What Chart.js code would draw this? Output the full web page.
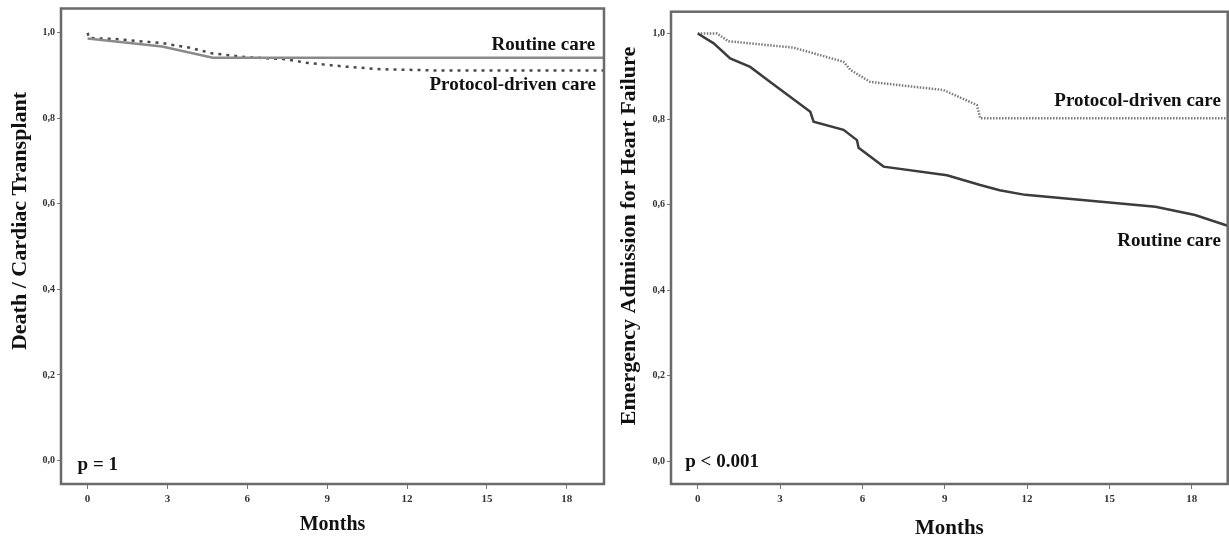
<!DOCTYPE html>
<html>
<head>
<meta charset="utf-8">
<title>Kaplan-Meier curves</title>
<script src="https://cdn.jsdelivr.net/npm/chart.js@4.4.1/dist/chart.umd.min.js"></script>
<style>
  html, body { margin: 0; padding: 0; background: #fff; }
  .panel { position: absolute; top: 0; height: 539px; }
  #leftPanel { left: 0; width: 610px; }
  #rightPanel { left: 610px; width: 619px; }
</style>
</head>
<body>
<div class="panel" id="leftPanel"><canvas id="deathChart"></canvas></div>
<div class="panel" id="rightPanel"><canvas id="admissionChart"></canvas></div>
<script>
// axis ticks
const monthTicks = [0, 3, 6, 9, 12, 15, 18];
const survivalTicks = [0, 0.2, 0.4, 0.6, 0.8, 1.0];

// left panel - death / cardiac transplant
const deathRoutineMonths = [0, 2.8, 4.7, 19.4];
const deathRoutineValues = [0.987, 0.968, 0.942, 0.942];
const deathProtocolMonths = [0, 0.05, 0.95, 2.8, 3.85, 4.7, 6.0, 7.5, 8.2, 9.7, 11.0, 13.2, 19.4];
const deathProtocolValues = [1.0, 0.988, 0.986, 0.976, 0.965, 0.952, 0.943, 0.938, 0.930, 0.921, 0.915, 0.912, 0.912];

// right panel - emergency admission for heart failure
const admRoutineMonths = [0, 0.58, 1.18, 1.91, 2.64, 4.1, 4.22, 5.31, 5.8, 5.86, 6.77, 9.08, 10.29, 11.0, 11.93, 16.68, 18.12, 19.39];
const admRoutineValues = [1.0, 0.977, 0.942, 0.922, 0.887, 0.817, 0.794, 0.775, 0.751, 0.733, 0.689, 0.669, 0.646, 0.634, 0.623, 0.595, 0.576, 0.549];
const admProtocolMonths = [0, 0.7, 1.12, 3.49, 5.31, 5.56, 6.28, 8.95, 10.17, 10.29, 19.4];
const admProtocolValues = [1.0, 1.0, 0.982, 0.967, 0.934, 0.915, 0.887, 0.868, 0.833, 0.802, 0.802];

const serif = '"Liberation Serif", "Times New Roman", serif';
const toPoints = (xs, ys) => xs.map((x, i) => ({ x: x, y: ys[i] }));

// box around the plot, curve labels, p value and rotated y title
const kmFrame = {
  id: 'kmFrame',
  afterDraw(chart, args, opts) {
    const { ctx, chartArea: a, scales: { x, y } } = chart;
    ctx.save();
    ctx.strokeStyle = '#6a6a6a';
    ctx.lineWidth = 2.5;
    ctx.strokeRect(a.left, a.top, a.right - a.left, a.bottom - a.top);
    ctx.fillStyle = '#111';
    ctx.textBaseline = 'middle';
    ctx.font = 'bold 19px ' + serif;
    opts.notes.forEach(n => {
      ctx.textAlign = n.align;
      ctx.fillText(n.text, x.getPixelForValue(n.x), y.getPixelForValue(n.y));
    });
    ctx.font = 'bold 22px ' + serif;
    ctx.textAlign = 'center';
    ctx.translate(opts.titleX, opts.titleY);
    ctx.rotate(-Math.PI / 2);
    ctx.fillText(opts.yTitle, 0, 0);
    ctx.restore();
  }
};

function makeOptions(cfg) {
  return {
    responsive: true,
    maintainAspectRatio: false,
    animation: false,
    layout: { padding: { top: cfg.padTop, right: cfg.padRight, left: 0, bottom: 0 } },
    plugins: {
      legend: { display: false },
      tooltip: { enabled: false },
      kmFrame: cfg.frame
    },
    scales: {
      x: {
        type: 'linear',
        min: cfg.xMin,
        max: cfg.xMax,
        afterBuildTicks: s => { s.ticks = monthTicks.map(v => ({ value: v })); },
        afterFit: s => { s.height = 55; },
        grid: { drawOnChartArea: false, tickLength: 5, color: '#777' },
        border: { display: false },
        ticks: {
          autoSkip: false, maxRotation: 0, padding: 4, color: '#333',
          font: { family: serif, size: 11, weight: 'bold' }
        },
        title: {
          display: true, text: 'Months', color: '#111',
          font: { family: serif, size: cfg.monthsSize, weight: 'bold', lineHeight: 1 },
          padding: { top: 0, bottom: cfg.monthsPad }
        }
      },
      y: {
        type: 'linear',
        min: cfg.yMin,
        max: cfg.yMax,
        afterBuildTicks: s => { s.ticks = survivalTicks.map(v => ({ value: v })); },
        afterFit: s => { s.width = 61; },
        grid: { drawOnChartArea: false, tickLength: 4, color: '#777' },
        border: { display: false },
        ticks: {
          padding: 2, color: '#333',
          font: { family: serif, size: 10, weight: 'bold' },
          callback: v => v.toFixed(1).replace('.', ',')
        }
      }
    }
  };
}

const deathChart = new Chart(document.getElementById('deathChart'), {
  type: 'line',
  data: {
    datasets: [{
      label: 'Routine care',
      data: toPoints(deathRoutineMonths, deathRoutineValues),
      borderColor: '#8a8a8a',
      borderWidth: 2.5,
      pointRadius: 0,
      tension: 0
    }, {
      label: 'Protocol-driven care',
      data: toPoints(deathProtocolMonths, deathProtocolValues),
      borderColor: '#4a4a4a',
      borderWidth: 2.5,
      borderDash: [3, 5],
      pointRadius: 0,
      tension: 0
    }]
  },
  options: makeOptions({
    padTop: 8.5, padRight: 6,
    xMin: -1.0, xMax: 19.4, yMin: -0.055, yMax: 1.057,
    monthsSize: 20, monthsPad: 4,
    frame: {
      yTitle: 'Death / Cardiac Transplant', titleX: 20.5, titleY: 221,
      notes: [
        { text: 'Routine care', x: 19.07, y: 0.972, align: 'right' },
        { text: 'Protocol-driven care', x: 19.1, y: 0.878, align: 'right' },
        { text: 'p = 1', x: -0.376, y: -0.01, align: 'left' }
      ]
    }
  }),
  plugins: [kmFrame]
});

const admissionChart = new Chart(document.getElementById('admissionChart'), {
  type: 'line',
  data: {
    datasets: [{
      label: 'Routine care',
      data: toPoints(admRoutineMonths, admRoutineValues),
      borderColor: '#3c3c3c',
      borderWidth: 2.5,
      pointRadius: 0,
      tension: 0
    }, {
      label: 'Protocol-driven care',
      data: toPoints(admProtocolMonths, admProtocolValues),
      borderColor: '#7a7a7a',
      borderWidth: 2.5,
      borderDash: [1.5, 1.5],
      pointRadius: 0,
      tension: 0
    }]
  },
  options: makeOptions({
    padTop: 11.7, padRight: 1.3,
    xMin: -0.976, xMax: 19.31, yMin: -0.0526, yMax: 1.051,
    monthsSize: 21, monthsPad: 0,
    frame: {
      yTitle: 'Emergency Admission for Heart Failure', titleX: 19, titleY: 236,
      notes: [
        { text: 'Protocol-driven care', x: 19.06, y: 0.843, align: 'right' },
        { text: 'Routine care', x: 19.06, y: 0.515, align: 'right' },
        { text: 'p < 0.001', x: -0.455, y: -0.002, align: 'left' }
      ]
    }
  }),
  plugins: [kmFrame]
});
</script>
</body>
</html>
